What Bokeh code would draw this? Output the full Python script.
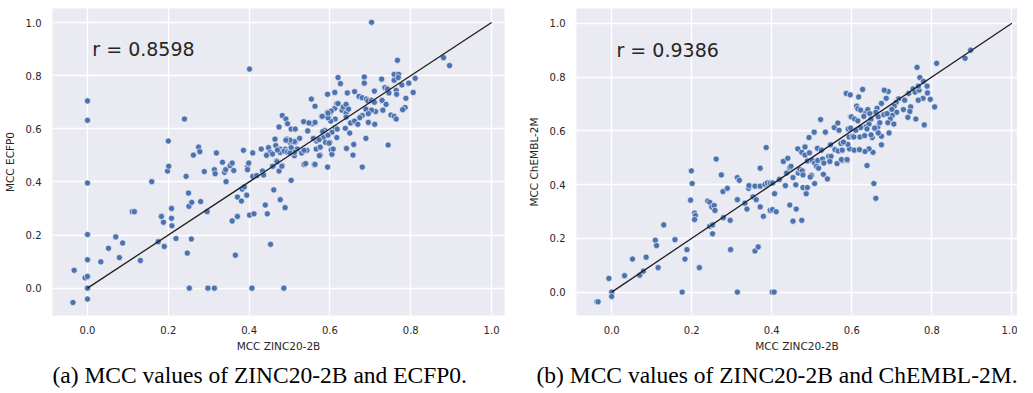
from bokeh.plotting import figure
from bokeh.layouts import row
from bokeh.models import FixedTicker, NumeralTickFormatter, Title
from bokeh.core.properties import value
from bokeh.embed import file_html
from bokeh.resources import INLINE

# ---------------- data ----------------
ticks = [0.0, 0.2, 0.4, 0.6, 0.8, 1.0]
diag = [0.0, 1.0]

a_x = [-0.036, -0.033, -0.006, 0.0, 0.0, 0.0, 0.0, 0.0, 0.0, 0.0, 0.0,
       0.033, 0.052, 0.070, 0.079, 0.087, 0.111, 0.116, 0.131,
       0.159, 0.175, 0.183, 0.188, 0.190, 0.198, 0.200, 0.201,
       0.208, 0.208, 0.209, 0.219, 0.240, 0.244, 0.247, 0.250, 0.251, 0.257, 0.258, 0.262, 0.252,
       0.275, 0.278, 0.280, 0.289, 0.296, 0.298, 0.314, 0.314, 0.316, 0.319,
       0.334, 0.339, 0.342, 0.343, 0.353, 0.358, 0.362, 0.358, 0.366, 0.371, 0.371, 0.381, 0.383,
       0.386, 0.388, 0.394, 0.396, 0.399, 0.401, 0.401, 0.412, 0.407, 0.409, 0.409, 0.419, 0.396,
       0.430, 0.433, 0.436, 0.440, 0.445, 0.445, 0.448, 0.453, 0.453, 0.460, 0.461, 0.464, 0.466,
       0.468, 0.474, 0.474, 0.476, 0.477, 0.477, 0.482, 0.482, 0.486, 0.489, 0.489, 0.491, 0.494,
       0.495, 0.501, 0.504, 0.504, 0.504, 0.512, 0.514, 0.514, 0.519, 0.525, 0.530, 0.535, 0.536,
       0.543, 0.545, 0.550, 0.556, 0.554, 0.563, 0.563, 0.561, 0.566, 0.567, 0.576, 0.576, 0.579,
       0.584, 0.587, 0.589, 0.594, 0.594, 0.597, 0.595, 0.600, 0.602, 0.603, 0.605,
       0.487, 0.495, 0.470, 0.458, 0.443, 0.481, 0.469, 0.458,
       0.612, 0.612, 0.617, 0.620, 0.626, 0.620, 0.603, 0.613, 0.602, 0.595, 0.595, 0.613, 0.605,
       0.595, 0.608, 0.594, 0.582, 0.581, 0.559, 0.573, 0.574, 0.563, 0.548, 0.540, 0.536, 0.512,
       0.501, 0.491, 0.512, 0.501, 0.598, 0.617, 0.618,
       0.630, 0.633, 0.640, 0.640, 0.640, 0.646, 0.638, 0.641, 0.643, 0.651, 0.649, 0.659, 0.657,
       0.661, 0.669, 0.661, 0.672, 0.680, 0.690, 0.694, 0.703, 0.710, 0.713, 0.689, 0.703, 0.695,
       0.680, 0.674, 0.695, 0.711, 0.689, 0.680, 0.685, 0.685, 0.703, 0.710, 0.728, 0.729, 0.739,
       0.731, 0.736, 0.742, 0.746, 0.751, 0.759, 0.764, 0.744, 0.759, 0.770, 0.759, 0.769, 0.767,
       0.764, 0.765, 0.778, 0.795, 0.811, 0.806, 0.788, 0.786, 0.780, 0.881, 0.896]
a_y = [-0.054, 0.067, 0.039, 0.000, -0.041, 0.044, 0.107, 0.202, 0.396, 0.632, 0.705,
       0.099, 0.150, 0.193, 0.115, 0.170, 0.288, 0.288, 0.104,
       0.401, 0.175, 0.270, 0.248, 0.157, 0.441, 0.554, 0.459,
       0.300, 0.263, 0.235, 0.187, 0.637, 0.421, 0.132, 0.358, 0.308, 0.185, 0.323, 0.501, 0.000,
       0.531, 0.514, 0.326, 0.439, 0.288, 0.000, 0.000, 0.446, 0.431, 0.509,
       0.474, 0.436, 0.446, 0.401, 0.461, 0.471, 0.443, 0.253, 0.124, 0.270, 0.343, 0.328, 0.373,
       0.519, 0.381, 0.350, 0.456, 0.471, 0.825, 0.275, 0.280, 0.000, 0.509, 0.421, 0.424, 0.446,
       0.524, 0.441, 0.426, 0.313, 0.280, 0.504, 0.529, 0.511, 0.165, 0.459, 0.370, 0.561, 0.537,
       0.479, 0.441, 0.607, 0.524, 0.511, 0.333, 0.650, 0.461, 0.000, 0.524, 0.303, 0.637, 0.561,
       0.619, 0.549, 0.599, 0.529, 0.406, 0.499, 0.599, 0.549, 0.524, 0.564, 0.509, 0.627, 0.466,
       0.519, 0.592, 0.622, 0.619, 0.712, 0.685, 0.624, 0.466, 0.524, 0.554, 0.531, 0.501, 0.647,
       0.567, 0.594, 0.549, 0.730, 0.662, 0.650, 0.456, 0.549, 0.662, 0.521, 0.504,
       0.516, 0.512, 0.520, 0.505, 0.500, 0.459, 0.476, 0.459,
       0.737, 0.677, 0.695, 0.793, 0.770, 0.695, 0.667, 0.637, 0.629, 0.642, 0.659, 0.604, 0.587,
       0.576, 0.524, 0.456, 0.589, 0.647, 0.564, 0.559, 0.499, 0.466, 0.622, 0.469, 0.519, 0.552,
       0.557, 0.557, 0.511, 0.509, 0.546, 0.567, 0.599,
       0.670, 0.682, 0.692, 0.659, 0.644, 0.674, 0.602, 0.526, 0.735, 0.622, 0.584, 0.541, 0.501,
       0.629, 0.617, 0.740, 0.722, 0.717, 0.712, 0.705, 0.707, 0.700, 0.665, 0.674, 0.670, 0.657,
       0.650, 0.642, 0.624, 0.617, 0.564, 0.456, 0.795, 0.772, 1.001, 0.742, 0.787, 0.707, 0.692,
       0.670, 0.755, 0.750, 0.735, 0.652, 0.647, 0.637, 0.539, 0.805, 0.805, 0.783, 0.793, 0.858,
       0.745, 0.730, 0.765, 0.772, 0.790, 0.737, 0.715, 0.680, 0.672, 0.868, 0.838]

b_x = [-0.037, -0.034, -0.007, 0.0, 0.0, 0.032, 0.052, 0.070, 0.079, 0.086, 0.109, 0.112, 0.116,
       0.130, 0.158, 0.176, 0.183, 0.188, 0.197, 0.199, 0.201, 0.207, 0.209, 0.207, 0.219, 0.240,
       0.245, 0.250, 0.256, 0.258, 0.245, 0.252, 0.252, 0.261, 0.274, 0.278, 0.279, 0.289, 0.296,
       0.297, 0.314, 0.314, 0.314, 0.319, 0.333, 0.338, 0.342, 0.343, 0.353, 0.358, 0.361, 0.371,
       0.379, 0.358, 0.366, 0.371, 0.371, 0.383, 0.389, 0.396, 0.402, 0.386, 0.396, 0.402, 0.411,
       0.401, 0.406, 0.407, 0.419, 0.429, 0.434, 0.437, 0.440, 0.445, 0.448, 0.445, 0.461, 0.453,
       0.475, 0.453, 0.460, 0.465, 0.466, 0.470, 0.476, 0.475, 0.483, 0.478, 0.478, 0.489, 0.486,
       0.483, 0.494, 0.489, 0.501, 0.493, 0.499, 0.496, 0.506, 0.507, 0.512, 0.517, 0.507, 0.514,
       0.515, 0.527, 0.522, 0.524, 0.529, 0.530, 0.534, 0.539, 0.542, 0.548, 0.547, 0.545, 0.556,
       0.558, 0.566, 0.565, 0.568, 0.563, 0.576, 0.573, 0.576, 0.586, 0.596, 0.589, 0.591, 0.597,
       0.593, 0.602, 0.594, 0.606, 0.597, 0.590, 0.579, 0.574, 0.588, 0.660,
       0.897, 0.883, 0.812, 0.763, 0.770, 0.779, 0.788, 0.789, 0.796, 0.807, 0.781, 0.778, 0.766,
       0.760, 0.747, 0.745, 0.740, 0.729, 0.732, 0.742, 0.753, 0.758, 0.768, 0.766, 0.717, 0.711,
       0.706, 0.712, 0.701, 0.696, 0.691, 0.681, 0.686, 0.674, 0.663, 0.660, 0.666, 0.665, 0.657,
       0.693, 0.674, 0.666, 0.674, 0.651, 0.648, 0.653, 0.638, 0.643, 0.633, 0.655, 0.627, 0.617,
       0.612, 0.615, 0.622, 0.635, 0.640, 0.645, 0.630, 0.648, 0.599, 0.607, 0.615, 0.635, 0.643,
       0.638, 0.622, 0.610, 0.620, 0.605, 0.632, 0.619, 0.680, 0.688, 0.700, 0.690, 0.705, 0.670]
b_y = [-0.036, -0.036, 0.051, 0.000, -0.016, 0.061, 0.123, 0.063, 0.078, 0.130, 0.193, 0.173, 0.091,
       0.250, 0.195, 0.000, 0.123, 0.158, 0.342, 0.451, 0.404, 0.294, 0.285, 0.270, 0.091, 0.339,
       0.334, 0.317, 0.322, 0.304, 0.245, 0.250, 0.217, 0.495, 0.436, 0.374, 0.277, 0.386, 0.267,
       0.158, 0.344, 0.000, 0.426, 0.416, 0.331, 0.309, 0.386, 0.396, 0.354, 0.394, 0.344, 0.317,
       0.282, 0.153, 0.168, 0.461, 0.394, 0.401, 0.406, 0.406, 0.406, 0.538, 0.304, 0.307, 0.299,
       0.000, 0.000, 0.366, 0.419, 0.486, 0.396, 0.443, 0.498, 0.463, 0.468, 0.324, 0.309, 0.264,
       0.267, 0.426, 0.399, 0.533, 0.443, 0.456, 0.451, 0.520, 0.540, 0.436, 0.389, 0.389, 0.366,
       0.510, 0.518, 0.488, 0.490, 0.575, 0.434, 0.428, 0.595, 0.480, 0.468, 0.461, 0.404, 0.535,
       0.490, 0.495, 0.642, 0.528, 0.438, 0.480, 0.595, 0.421, 0.505, 0.505, 0.548, 0.486, 0.612,
       0.530, 0.525, 0.629, 0.602, 0.478, 0.490, 0.553, 0.528, 0.739, 0.734, 0.490, 0.607, 0.610,
       0.577, 0.580, 0.533, 0.528, 0.652, 0.550, 0.558, 0.493, 0.493, 0.349,
       0.900, 0.870, 0.851, 0.836, 0.798, 0.784, 0.766, 0.741, 0.717, 0.689, 0.622, 0.721, 0.714,
       0.644, 0.689, 0.672, 0.650, 0.679, 0.714, 0.739, 0.756, 0.744, 0.751, 0.766, 0.719, 0.706,
       0.692, 0.669, 0.657, 0.644, 0.746, 0.751, 0.721, 0.702, 0.684, 0.669, 0.652, 0.615, 0.610,
       0.592, 0.580, 0.592, 0.548, 0.575, 0.585, 0.520, 0.471, 0.533, 0.523, 0.404, 0.754, 0.726,
       0.692, 0.682, 0.677, 0.667, 0.679, 0.664, 0.654, 0.644, 0.652, 0.644, 0.637, 0.615, 0.625,
       0.607, 0.612, 0.602, 0.577, 0.577, 0.582, 0.530, 0.660, 0.664, 0.680, 0.630, 0.625, 0.630]

panels = [
    dict(x=a_x, y=a_y, r="r = 0.8598", ylabel="MCC ECFP0",
         caption="(a) MCC values of ZINC20-2B and ECFP0.",
         xr=(-0.0866, 1.032), yr=(-0.103, 1.053),
         width=524, mbl=44, mbr=20, cap_off=0),
    dict(x=b_x, y=b_y, r="r = 0.9386", ylabel="MCC ChEMBL-2M",
         caption="(b) MCC values of ZINC20-2B and ChEMBL-2M.",
         xr=(-0.088, 1.014), yr=(-0.087, 1.055),
         width=493, mbl=44, mbr=0, cap_off=-40),
]

TEXT = "#262626"
figs = []
for pd_ in panels:
    p = figure(width=pd_["width"], height=392, x_range=pd_["xr"], y_range=pd_["yr"],
               output_backend="svg", toolbar_location=None,
               min_border_left=pd_["mbl"], min_border_right=pd_["mbr"],
               min_border_top=8, min_border_bottom=77)
    p.background_fill_color = "#EAEAF2"
    p.border_fill_color = "white"
    p.outline_line_color = None
    for ax in (p.xaxis[0], p.yaxis[0]):
        ax.ticker = FixedTicker(ticks=ticks)
        ax.formatter = NumeralTickFormatter(format="0.0")
        ax.major_tick_line_color = None
        ax.minor_tick_line_color = None
        ax.axis_line_color = None
        ax.major_label_text_font = "DejaVu Sans"
        ax.major_label_text_font_size = "10px"
        ax.major_label_text_color = TEXT
        ax.axis_label_text_font = "DejaVu Sans"
        ax.axis_label_text_font_size = "10.5px"
        ax.axis_label_text_font_style = "normal"
        ax.axis_label_text_color = TEXT
    p.xaxis.axis_label = "MCC ZINC20-2B"
    p.yaxis.axis_label = pd_["ylabel"]
    p.xaxis.major_label_standoff = 4
    p.xaxis.axis_label_standoff = 3
    p.yaxis.major_label_standoff = 5
    p.yaxis.axis_label_standoff = 7
    p.xgrid.grid_line_color = "white"
    p.ygrid.grid_line_color = "white"
    p.xgrid.grid_line_width = 1.3
    p.ygrid.grid_line_width = 1.3

    p.scatter(pd_["x"], pd_["y"], size=6.2, fill_color="#4C72B0",
              line_color="white", line_width=0.6)
    p.line(diag, diag, line_color="#1f1f1f", line_width=1.3)
    p.text(x=[0.012], y=[0.9], text=[pd_["r"]], text_font=value("DejaVu Sans"),
           text_font_size="19px", text_color=TEXT, text_baseline="alphabetic",
           text_align="left")

    cap = Title(text=pd_["caption"], align="left", offset=pd_["cap_off"],
                text_font="Liberation Serif", text_font_size="23.5px",
                text_font_style="normal", text_color="black", standoff=10)
    p.add_layout(cap, "below")
    figs.append(p)

layout = row(*figs)
open("out.html", "w").write(file_html(layout, INLINE))
